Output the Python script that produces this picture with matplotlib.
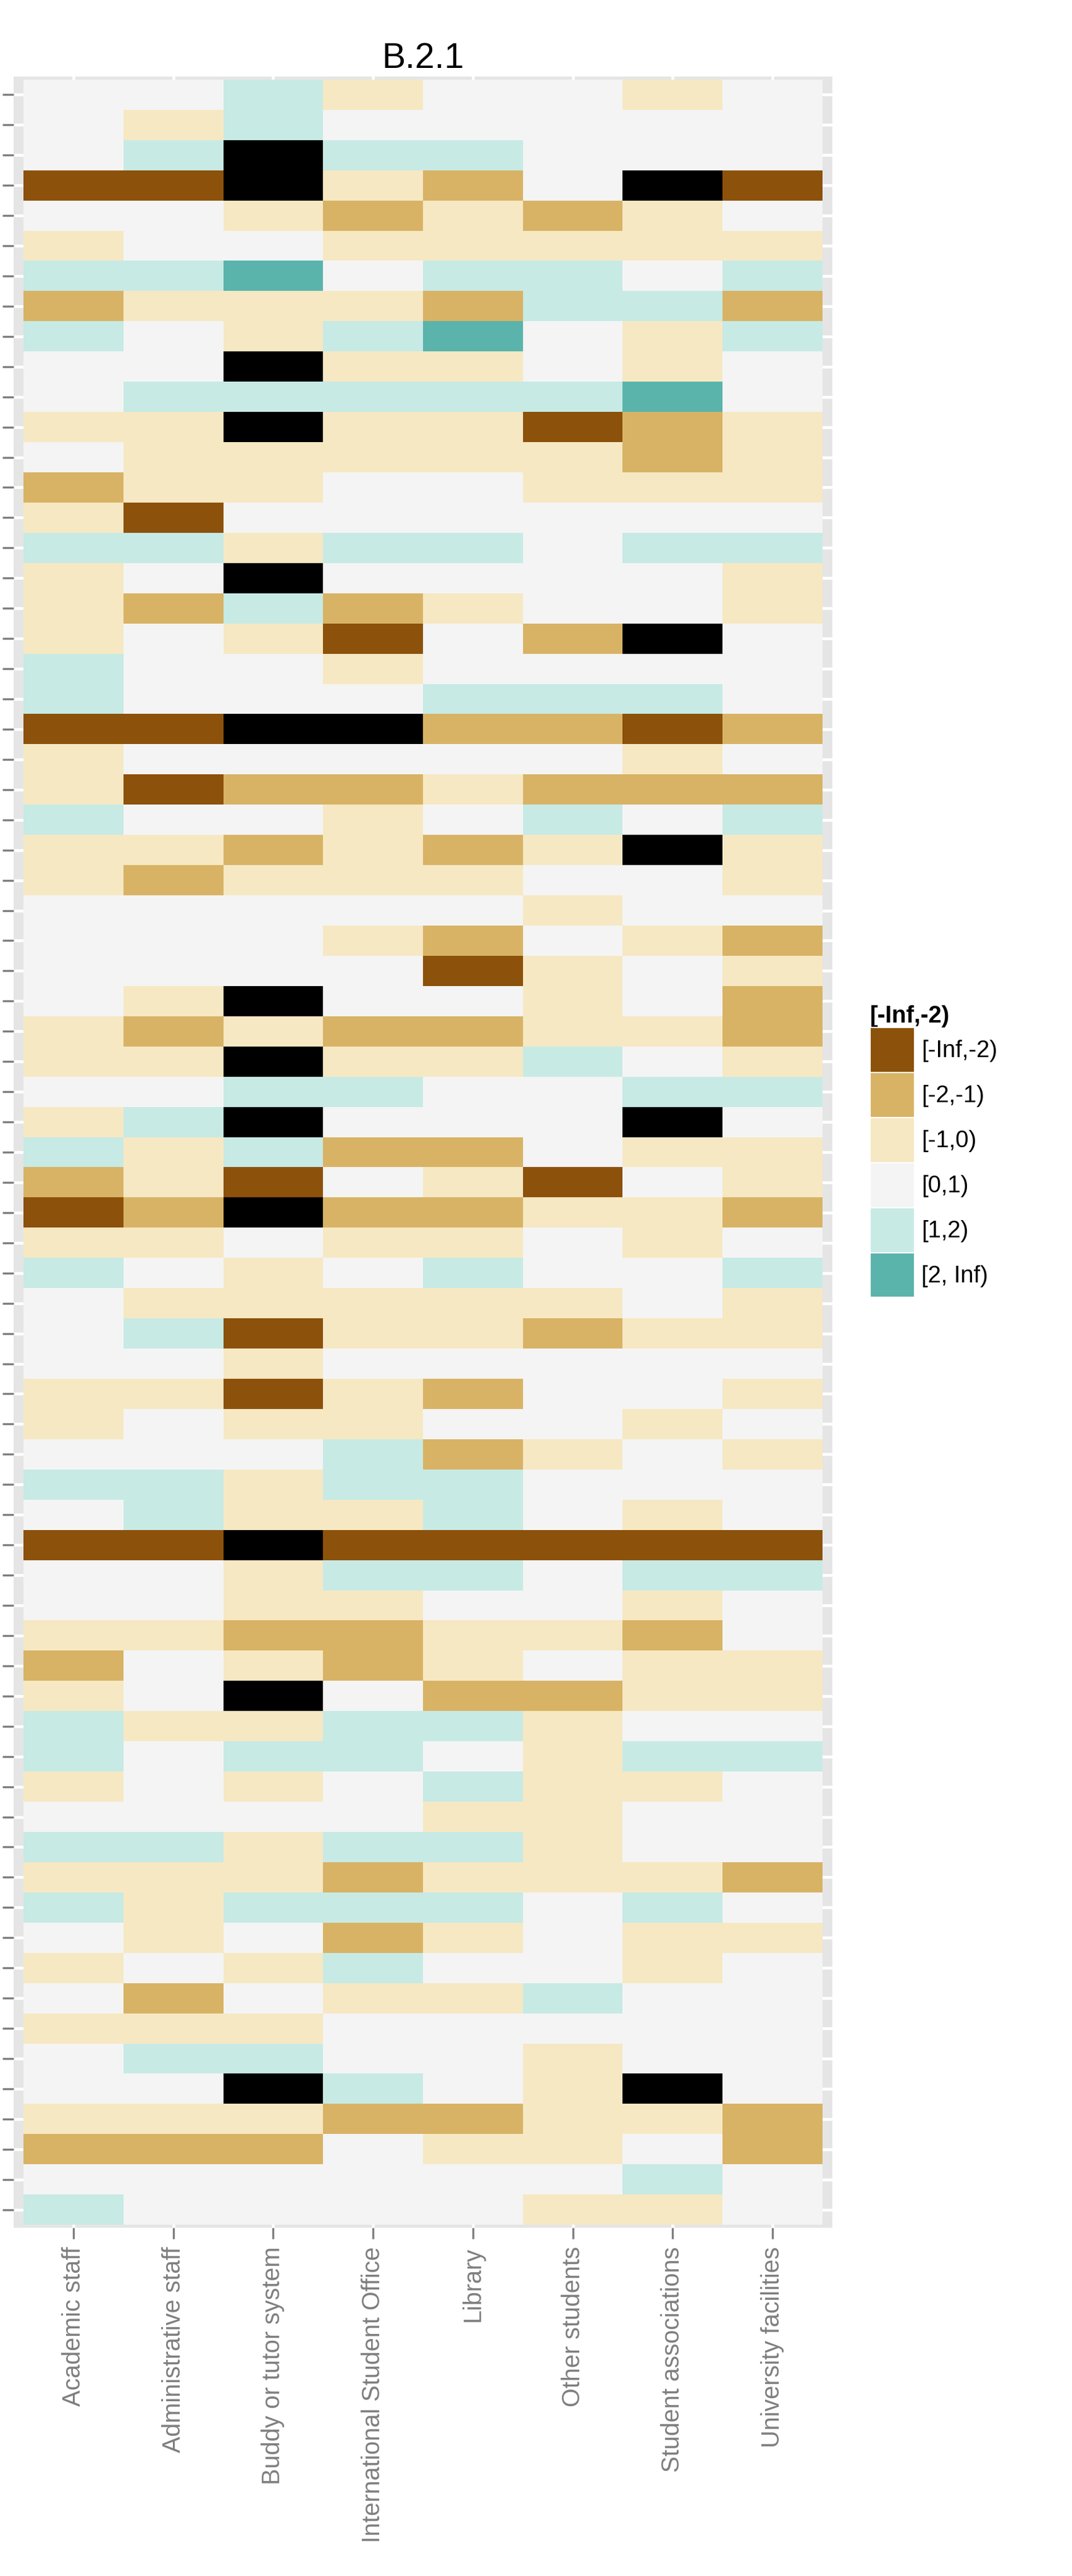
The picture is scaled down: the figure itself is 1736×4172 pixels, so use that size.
import numpy as np
import matplotlib
matplotlib.use("Agg")
import matplotlib.pyplot as plt
from matplotlib.colors import ListedColormap, BoundaryNorm
from matplotlib.patches import Patch

plt.rcParams['font.family'] = ['Liberation Sans', 'DejaVu Sans']

title = "B.2.1"
columns = ["Academic staff", "Administrative staff", "Buddy or tutor system",
           "International Student Office", "Library", "Other students",
           "Student associations", "University facilities"]
bin_labels = ["[-Inf,-2)", "[-2,-1)", "[-1,0)", "[0,1)", "[1,2)", "[2, Inf)"]
bin_colors = ["#8C510A", "#D8B365", "#F6E8C3", "#F4F4F4", "#C7EAE5", "#5AB4AC"]
na_color = "#000000"

# one string per row (top to bottom); digit = index into bin_labels, 'x' = missing
rows = [
    "33423323", "32433333", "34x44333", "00x213x0", "33212123", "23322222",
    "44534434", "12221441", "43245324", "33x22323", "34444453", "22x22012",
    "32222212", "12233222", "20333333", "44244344", "23x33332", "21412332",
    "232031x3", "43323333", "43334443", "00xx1101", "23333323", "20112111",
    "43323434", "221212x2", "21222332", "33333233", "33321321", "33330232",
    "32x33231", "21211221", "22x22432", "33443344", "24x333x3", "42411322",
    "12032032", "01x11221", "22322323", "43234334", "32222232", "34022122",
    "33233333", "22021332", "23223323", "33341232", "44244333", "34224323",
    "00x00000", "33244344", "33223323", "22112213", "13212322", "23x31122",
    "42244233", "43443244", "23234223", "33332233", "44244233", "22212221",
    "42444343", "32312322", "23243323", "31322433", "22233333", "34433233",
    "33x432x3", "22211221", "11132231", "33333343", "43333223",
]

grid = np.array([[np.nan if c == "x" else float(c) for c in r] for r in rows])
nrow, ncol = grid.shape

W, H = 1736, 4172
fig = plt.figure(figsize=(W / 100, H / 100), dpi=100)
ax = fig.add_axes([22 / W, 1 - 3608 / H, 1326 / W, 3484 / H])
ax.set_facecolor("#E5E5E5")

cmap = ListedColormap(bin_colors)
cmap.set_bad(na_color)
norm = BoundaryNorm(np.arange(-0.5, len(bin_colors)), cmap.N)
ax.pcolormesh(np.arange(-0.5, ncol), np.arange(-0.5, nrow),
              np.ma.masked_invalid(grid), cmap=cmap, norm=norm, zorder=2)

ax.set_xlim(-0.6, ncol - 0.4)
ax.set_ylim(nrow - 0.4, -0.6)
ax.set_xticks(range(ncol))
ax.set_xticklabels(columns, rotation=90, fontsize=28.5, color="#7F7F7F")
ax.set_yticks(range(nrow))
ax.set_yticklabels([])
ax.set_axisbelow(True)
ax.grid(True, color="white", lw=3.3)
ax.tick_params(axis="both", length=13, width=2.4, color="#7F7F7F", pad=9)
for s in ax.spines.values():
    s.set_visible(False)

fig.text((22 + 1348) / 2 / W, 1 - 110 / H, title, ha="center", va="baseline",
         fontsize=41, color="black")

handles = [Patch(facecolor=c, edgecolor="white", linewidth=1.5) for c in bin_colors]
fig.legend(handles, bin_labels, title=bin_labels[0], loc="upper left",
           bbox_to_anchor=(1409 / W, 1 - 1628 / H), frameon=False,
           fontsize=27.5, title_fontproperties={"weight": "bold", "size": 27.5},
           handlelength=1.88, handleheight=2.56, labelspacing=0.0,
           handletextpad=0.29, borderpad=0, borderaxespad=0, alignment="left")

fig.savefig("out.png", dpi=100)
